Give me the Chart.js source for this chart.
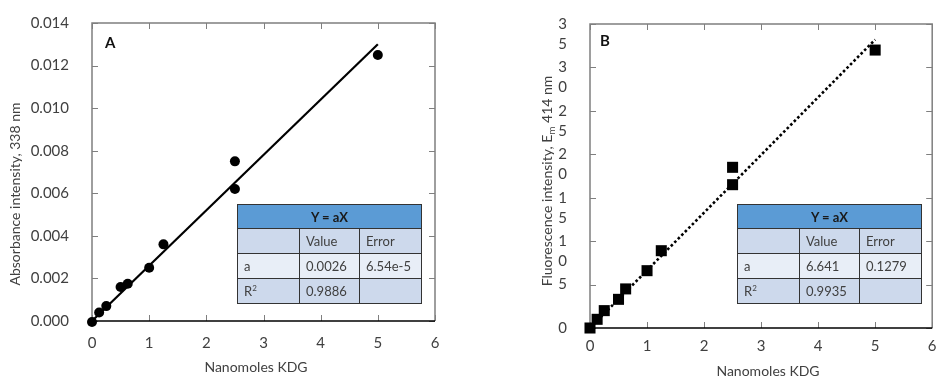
<!DOCTYPE html>
<html>
<head>
<meta charset="utf-8">
<script src="https://cdn.jsdelivr.net/npm/chart.js@4.4.1/dist/chart.umd.min.js"></script>
<style>
  body { margin: 0; background: #fff; }
  #wrap { position: relative; width: 940px; height: 378px; overflow: hidden; }
  .panel { position: absolute; top: 0; width: 470px; height: 378px; }
  .fit { position: absolute; top: 204px; width: 184px; border-collapse: collapse; table-layout: fixed;
         font-family: Lato, sans-serif; font-size: 13px; color: #404040; }
  .fit th, .fit td { border: 1.5px solid #333; padding: 0 0 0 6px; text-align: left; }
  .fit th { background: #5b9bd5; color: #1a1a1a; font-weight: bold; text-align: center; height: 23px; font-size: 13px; padding: 0; }
  .fit tr.r1 td, .fit tr.r3 td { background: #cdd9ec; height: 24px; }
  .fit tr.r2 td { background: #e8eef7; height: 24px; }
  .fit sup { font-size: 8px; vertical-align: 5px; }
</style>
</head>
<body>
<div id="wrap">
  <div class="panel" style="left:0"><canvas id="chartA"></canvas></div>
  <div class="panel" style="left:470px"><canvas id="chartB"></canvas></div>
  <table class="fit" id="tableA" style="left:237px"></table>
  <table class="fit" id="tableB" style="left:737px"></table>
</div>
<script>
//Data
var nmolA = [0, 0.125, 0.25, 0.5, 0.625, 1, 1.25, 2.5, 2.5, 5];
var absA = [-0.00005, 0.0004, 0.0007, 0.0016, 0.00175, 0.0025, 0.0036, 0.0075, 0.0062, 0.0125];

var nmolB = [0, 0.125, 0.25, 0.5, 0.625, 1, 1.25, 2.5, 2.5, 5];
var fluB = [0, 1.0, 2.0, 3.3, 4.5, 6.6, 8.9, 18.5, 16.5, 32.0];

//Fit results: a, error, R2
var fitA = ['0.0026', '6.54e-5', '0.9886'];
var fitB = ['6.641', '0.1279', '0.9935'];

//Tick labels
var xTicks = ['0', '1', '2', '3', '4', '5', '6'];
var yTicksA = ['0.000', '0.002', '0.004', '0.006', '0.008', '0.010', '0.012', '0.014'];
var yTicksB = [['0', ''], ['5', ''], ['1', '0'], ['1', '5'], ['2', '0'], ['2', '5'], ['3', '0'], ['3', '5']];

var textColour = '#404040';
var fontFamily = 'Lato, sans-serif';


//Fill the little fit tables
function fillTable(id, fit) {
    var html = '<colgroup><col style="width:62px"><col style="width:60px"><col style="width:62px"></colgroup>';
    html += '<tr><th colspan="3">Y = aX</th></tr>';
    html += '<tr class="r1"><td></td><td>Value</td><td>Error</td></tr>';
    html += '<tr class="r2"><td>a</td><td>' + fit[0] + '</td><td>' + fit[1] + '</td></tr>';
    html += '<tr class="r3"><td>R<sup>2</sup></td><td>' + fit[2] + '</td><td></td></tr>';
    document.getElementById(id).innerHTML = html;
}
fillTable('tableA', fitA);
fillTable('tableB', fitB);


//Box round the plot with inward ticks, plus panel letter and axis titles
var framePlugin = {
    id: 'frame',
    beforeDatasetsDraw: function(chart, args, o) {
        var a = chart.chartArea, ctx = chart.ctx;
        var xs = chart.scales.x, ys = chart.scales.y;
        ctx.save();
        ctx.strokeStyle = '#7f7f7f';
        ctx.lineWidth = 1.5;
        ctx.beginPath();
        ctx.moveTo(a.left, a.bottom);
        ctx.lineTo(a.left, a.top);
        ctx.lineTo(a.right, a.top);
        ctx.lineTo(a.right, a.bottom);
        ctx.stroke();

        ctx.lineWidth = 1;
        ctx.beginPath();
        xs.ticks.forEach(function(t) {
            var px = Math.round(xs.getPixelForValue(t.value)) + 0.5;
            ctx.moveTo(px, a.bottom); ctx.lineTo(px, a.bottom - 6);
            ctx.moveTo(px, a.top); ctx.lineTo(px, a.top + 6);
        });
        ys.ticks.forEach(function(t) {
            var py = Math.round(ys.getPixelForValue(t.value)) + 0.5;
            ctx.moveTo(a.left, py); ctx.lineTo(a.left + 6, py);
            ctx.moveTo(a.right, py); ctx.lineTo(a.right - 6, py);
        });
        ctx.stroke();

        ctx.strokeStyle = '#000';
        ctx.lineWidth = 1.5;
        ctx.beginPath();
        ctx.moveTo(a.left, a.bottom);
        ctx.lineTo(a.right, a.bottom);
        ctx.stroke();

        //panel letter
        ctx.fillStyle = '#111';
        ctx.font = 'bold 15px ' + fontFamily;
        ctx.textAlign = 'left';
        ctx.textBaseline = 'alphabetic';
        ctx.fillText(o.letter, a.left + o.letterX, a.top + o.letterY);

        //x title
        ctx.fillStyle = textColour;
        ctx.font = '14px ' + fontFamily;
        ctx.textAlign = 'center';
        ctx.textBaseline = 'middle';
        ctx.fillText(o.xTitle, o.xTitlePos[0], o.xTitlePos[1]);

        //y title, pieces so a subscript can be lowered
        var big = '14px ' + fontFamily, small = '10px ' + fontFamily;
        var total = 0;
        o.yTitle.forEach(function(p) {
            ctx.font = p.sub ? small : big;
            total += ctx.measureText(p.text).width;
        });
        ctx.translate(o.yTitlePos[0], o.yTitlePos[1]);
        ctx.rotate(-Math.PI / 2);
        ctx.textAlign = 'left';
        var x = -total / 2;
        o.yTitle.forEach(function(p) {
            ctx.font = p.sub ? small : big;
            ctx.fillText(p.text, x, p.sub ? 5 : 0);
            x += ctx.measureText(p.text).width;
        });
        ctx.restore();
    }
};


function makeChart(id, xs, ys, slope, opt) {
    var points = xs.map(function(x, i) { return {x: x, y: ys[i]}; });
    var fitLine = [{x: 0, y: 0}, {x: 5, y: 5 * slope}];
    return new Chart(document.getElementById(id), {
        type: 'scatter',
        data: {
            datasets: [{
                data: points,
                pointStyle: opt.pointStyle,
                pointRadius: opt.pointRadius,
                pointHoverRadius: opt.pointRadius,
                backgroundColor: '#000',
                borderColor: '#000',
                borderWidth: 0,
                clip: false
            }, {
                type: 'line',
                data: fitLine,
                borderColor: '#000',
                borderWidth: opt.lineWidth,
                borderDash: opt.dash,
                pointRadius: 0,
                fill: false,
                clip: false
            }]
        },
        options: {
            responsive: false,
            animation: false,
            events: [],
            layout: { padding: opt.padding },
            plugins: {
                legend: { display: false },
                tooltip: { enabled: false },
                frame: opt.frame
            },
            scales: {
                x: {
                    type: 'linear',
                    min: 0, max: 6,
                    grid: { display: false },
                    border: { display: false },
                    ticks: {
                        stepSize: 1,
                        autoSkip: false,
                        maxRotation: 0,
                        padding: opt.xPad,
                        color: textColour,
                        font: { family: fontFamily, size: 15 },
                        callback: function(v, i) { return xTicks[i]; }
                    },
                    afterFit: function(s) {
                        s.height = opt.xHeight;
                        s.paddingLeft = 0; s.paddingRight = 0;
                    }
                },
                y: {
                    min: opt.yMax[0], max: opt.yMax[1],
                    grid: { display: false },
                    border: { display: false },
                    ticks: {
                        stepSize: opt.yStep,
                        autoSkip: false,
                        padding: opt.yPad,
                        labelOffset: opt.labelOffset,
                        color: textColour,
                        font: { family: fontFamily, size: 15, lineHeight: opt.lineHeight },
                        callback: function(v, i) { return opt.yTicks[i]; }
                    },
                    // keep the two-line labels from pushing the plot area down
                    afterFit: function(s) {
                        s.width = opt.yWidth;
                        s.paddingTop = 0; s.paddingBottom = 0;
                    }
                }
            }
        },
        plugins: [framePlugin]
    });
}

//set canvas sizes before creating charts
['chartA', 'chartB'].forEach(function(id) {
    var c = document.getElementById(id);
    c.width = 470; c.height = 378;
    c.style.width = '470px'; c.style.height = '378px';
});

var chartA = makeChart('chartA', nmolA, absA, parseFloat(fitA[0]), {
    pointStyle: 'circle', pointRadius: 5, lineWidth: 2.2, dash: [],
    padding: { top: 23, right: 35, left: 0, bottom: 0 },
    xHeight: 57, xPad: 5, yWidth: 92, yPad: 15,
    yMax: [0, 0.014], yStep: 0.002, yTicks: yTicksA, labelOffset: 0, lineHeight: 1.2,
    frame: {
        letter: 'A', letterX: 13, letterY: 25,
        xTitle: 'Nanomoles KDG', xTitlePos: [256, 367],
        yTitle: [{text: 'Absorbance intensity, 338 nm'}], yTitlePos: [15, 194]
    }
});

var chartB = makeChart('chartB', nmolB, fluB, parseFloat(fitB[0]), {
    pointStyle: 'rect', pointRadius: 7.8, lineWidth: 2.6, dash: [2.6, 2.4],
    padding: { top: 24, right: 6, left: 0, bottom: 0 },
    xHeight: 50, xPad: 1, yWidth: 120, yPad: 15,
    yMax: [0, 35], yStep: 5, yTicks: yTicksB, labelOffset: 10, lineHeight: 20 / 15,
    frame: {
        letter: 'B', letterX: 10, letterY: 22,
        xTitle: 'Nanomoles KDG', xTitlePos: [298, 371],
        yTitle: [{text: 'Fluorescence intensity, E'}, {text: 'm', sub: true}, {text: ' 414 nm'}],
        yTitlePos: [77, 181]
    }
});
</script>
</body>
</html>
